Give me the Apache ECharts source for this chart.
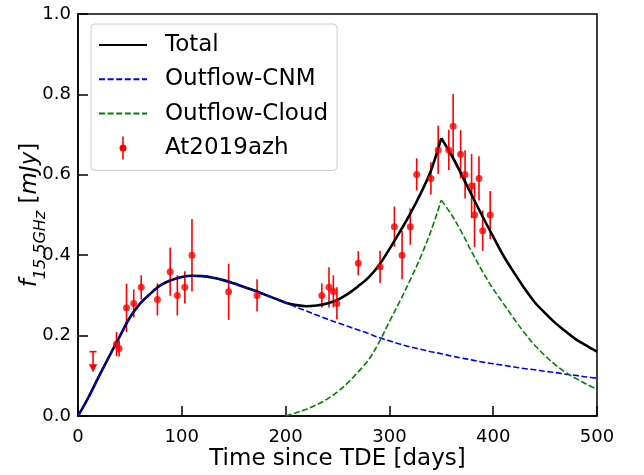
<!DOCTYPE html>
<html>
<head>
<meta charset="utf-8">
<script src="https://cdn.jsdelivr.net/npm/echarts@6/dist/echarts.min.js"></script>
<style>
  html, body { margin: 0; padding: 0; background: #ffffff; }
  #chart { width: 644px; height: 475px; }
</style>
</head>
<body>
<div id="chart"></div>
<script>
// Model light curves, sampled every 10 days
const days = [0, 10, 20, 30, 40, 50, 60, 70, 80, 90,
  100, 110, 120, 130, 140, 150, 160, 170, 180, 190,
  200, 210, 220, 230, 240, 250, 260, 270, 280, 290,
  300, 310, 320, 330, 340, 350, 360, 370, 380, 390,
  400, 410, 420, 430, 440, 450, 460, 470, 480, 490, 500];

const totalFlux = [0, 0.046, 0.098, 0.148, 0.197, 0.245, 0.280, 0.305, 0.326, 0.338,
  0.346, 0.349, 0.348, 0.344, 0.338, 0.330, 0.321, 0.312, 0.302, 0.292,
  0.282, 0.276, 0.273, 0.275, 0.280, 0.289, 0.304, 0.323, 0.345, 0.375,
  0.415, 0.458, 0.503, 0.553, 0.610, 0.691, 0.648, 0.598, 0.546, 0.495,
  0.446, 0.398, 0.357, 0.318, 0.283, 0.256, 0.231, 0.210, 0.190, 0.175, 0.160];

const cnmFlux = [0, 0.046, 0.098, 0.148, 0.197, 0.245, 0.280, 0.305, 0.326, 0.338,
  0.346, 0.349, 0.348, 0.344, 0.338, 0.330, 0.321, 0.312, 0.302, 0.292,
  0.282, 0.271, 0.261, 0.251, 0.241, 0.232, 0.223, 0.214, 0.205, 0.195,
  0.187, 0.179, 0.172, 0.166, 0.160, 0.155, 0.149, 0.144, 0.139, 0.134,
  0.130, 0.126, 0.122, 0.118, 0.115, 0.111, 0.108, 0.104, 0.101, 0.097, 0.094];

// The cloud component switches on at day 200
const cloudFlux = [null, null, null, null, null, null, null, null, null, null,
  null, null, null, null, null, null, null, null, null, null,
  0, 0.008, 0.017, 0.028, 0.042, 0.060, 0.083, 0.110, 0.140, 0.183,
  0.235, 0.285, 0.338, 0.395, 0.460, 0.537, 0.500, 0.455, 0.405, 0.358,
  0.316, 0.279, 0.242, 0.207, 0.176, 0.150, 0.127, 0.108, 0.093, 0.079, 0.066];

// Day of the cloud-interaction peak (curves have a cusp there)
const peakDay = 350;

// AT2019azh 15.5 GHz detections
const obsDays = [37.1, 39.6, 46.7, 53.7, 60.9, 76.5, 88.8, 95.7, 102.9, 109.8,
  145.1, 172.5, 234.9, 241.8, 246.0, 249.4, 270.0, 291.0, 304.8, 312.2,
  320.1, 326.3, 340.0, 347.0, 357.2, 361.4, 368.6, 372.9, 379.2, 382.0,
  386.3, 389.9, 397.1];
const obsFlux = [0.179, 0.168, 0.269, 0.280, 0.320, 0.290, 0.359, 0.300, 0.320, 0.400,
  0.309, 0.300, 0.300, 0.320, 0.310, 0.280, 0.380, 0.371, 0.471, 0.400,
  0.471, 0.601, 0.591, 0.662, 0.662, 0.721, 0.651, 0.601, 0.572, 0.500,
  0.591, 0.461, 0.500];
const obsErr = [0.03, 0.02, 0.06, 0.035, 0.03, 0.04, 0.06, 0.05, 0.04, 0.09,
  0.07, 0.04, 0.03, 0.05, 0.04, 0.04, 0.03, 0.04, 0.05, 0.06,
  0.045, 0.04, 0.04, 0.06, 0.05, 0.08, 0.06, 0.06, 0.08, 0.08,
  0.055, 0.05, 0.06];

// Upper limit
const limitDays = [14.5];
const limitFlux = [0.16];

// Axis ticks
const xTicks = [0, 100, 200, 300, 400, 500];
const yTicks = [0.0, 0.2, 0.4, 0.6, 0.8, 1.0];

const RED = '#ff0000';
const FONT = 'DejaVu Sans';

function pairs(xs, ys) {
  return xs.map((x, i) => [x, ys[i]]);
}

// Split a curve at the cusp so each side can be smoothed on its own
const cuspIndex = days.indexOf(peakDay);
function beforeCusp(ys) { return pairs(days, ys).slice(0, cuspIndex + 1).filter(p => p[1] !== null); }
function afterCusp(ys) { return pairs(days, ys).slice(cuspIndex); }

function renderErrorBar(params, api) {
  const x = api.value(0), y = api.value(1), e = api.value(2);
  const hi = api.coord([x, y + e]);
  const lo = api.coord([x, y - e]);
  return {
    type: 'line',
    shape: { x1: hi[0], y1: hi[1], x2: lo[0], y2: lo[1] },
    style: { stroke: RED, lineWidth: 1.6 }
  };
}

function renderLimit(params, api) {
  const p = api.coord([api.value(0), api.value(1)]);
  return {
    type: 'group',
    children: [
      { type: 'line', shape: { x1: p[0] - 3.5, y1: p[1], x2: p[0] + 3.5, y2: p[1] },
        style: { stroke: RED, lineWidth: 1.6 } },
      { type: 'line', shape: { x1: p[0], y1: p[1], x2: p[0], y2: p[1] + 13 },
        style: { stroke: RED, lineWidth: 1.6 } },
      { type: 'polygon', shape: { points: [[p[0] - 4.2, p[1] + 12.5], [p[0] + 4.2, p[1] + 12.5], [p[0], p[1] + 20.5]] },
        style: { fill: RED } }
    ]
  };
}

const chart = echarts.init(document.getElementById('chart'), null, { renderer: 'canvas' });

const axisCommon = {
  axisLine: { show: true, lineStyle: { color: '#000', width: 1.5 } },
  axisTick: { show: true, inside: true, length: 10, lineStyle: { color: '#000', width: 1.5 } },
  splitLine: { show: false },
  nameMoveOverlap: false
};

const totalStyle = { color: '#000000', width: 2.6 };
const cnmStyle = { color: '#0000ff', width: 1.6, type: [6, 2.6] };
const cloudStyle = { color: '#008000', width: 1.6, type: [6, 2.6] };

function curve(name, data, lineStyle) {
  return {
    name: name, type: 'line', data: data,
    symbol: 'none', smooth: 0.35,
    lineStyle: lineStyle,
    itemStyle: { color: lineStyle.color }
  };
}

chart.setOption({
  animation: false,
  backgroundColor: '#ffffff',
  textStyle: { fontFamily: FONT },
  grid: {
    left: 78, right: 47, top: 14, bottom: 59,
    outerBoundsMode: 'none', containLabel: false,
    show: true, borderColor: '#000', borderWidth: 1.5, backgroundColor: 'transparent'
  },
  xAxis: Object.assign({
    type: 'value',
    min: xTicks[0], max: xTicks[xTicks.length - 1], interval: xTicks[1] - xTicks[0],
    name: 'Time since TDE [days]',
    nameLocation: 'middle', nameGap: 32,
    nameTextStyle: { fontFamily: FONT, fontSize: 23, color: '#000' },
    axisLabel: { fontFamily: FONT, fontSize: 18, color: '#000', margin: 12 }
  }, axisCommon),
  yAxis: Object.assign({
    type: 'value',
    min: yTicks[0], max: yTicks[yTicks.length - 1], interval: 0.2,
    name: '{f|f}{s|15.5GHz}{r| [}{f|mJy}{r|]}',
    nameLocation: 'middle', nameGap: 16, nameRotate: 90,
    nameTextStyle: {
      color: '#000',
      rich: {
        f: { fontFamily: FONT, fontStyle: 'italic', fontSize: 23, lineHeight: 23, verticalAlign: 'top', color: '#000' },
        r: { fontFamily: FONT, fontSize: 23, lineHeight: 23, verticalAlign: 'top', color: '#000' },
        s: { fontFamily: FONT, fontStyle: 'italic', fontSize: 16, lineHeight: 43, color: '#000' }
      }
    },
    axisLabel: {
      fontFamily: FONT, fontSize: 18, color: '#000', margin: 7,
      formatter: v => v.toFixed(1)
    }
  }, axisCommon),
  legend: {
    orient: 'vertical',
    left: 91, top: 24,
    padding: [9.5, 9, 11, 7],
    itemWidth: 48, itemHeight: 23, itemGap: 11.3,
    selectedMode: false,
    backgroundColor: 'rgba(255,255,255,0.8)',
    borderColor: '#cccccc', borderWidth: 1, borderRadius: 4,
    itemStyle: { opacity: 0 },
    textStyle: { fontFamily: FONT, fontSize: 23, lineHeight: 23, color: '#000', padding: [0, 0, 0, 13] },
    data: [
      { name: 'Total' },
      { name: 'Outflow-CNM' },
      { name: 'Outflow-Cloud' },
      {
        name: 'At2019azh',
        icon: 'path://M-0.8,0 L0.8,0 L0.8,23 L-0.8,23 Z M0,8 A3.5,3.5 0 1 1 0,15 A3.5,3.5 0 1 1 0,8 Z',
        itemStyle: { opacity: 1, color: RED }
      }
    ]
  },
  series: [
    curve('Total', beforeCusp(totalFlux), totalStyle),
    curve('Total', afterCusp(totalFlux), totalStyle),
    curve('Outflow-CNM', pairs(days, cnmFlux), cnmStyle),
    curve('Outflow-Cloud', beforeCusp(cloudFlux), cloudStyle),
    curve('Outflow-Cloud', afterCusp(cloudFlux), cloudStyle),
    {
      name: 'At2019azh', type: 'scatter',
      data: pairs(obsDays, obsFlux),
      symbol: 'circle', symbolSize: 7,
      itemStyle: { color: RED },
      z: 4
    },
    {
      name: 'At2019azh', type: 'custom',
      data: obsDays.map((d, i) => [d, obsFlux[i], obsErr[i]]),
      encode: { x: 0, y: 1 },
      renderItem: renderErrorBar,
      itemStyle: { color: RED },
      z: 3
    },
    {
      name: 'At2019azh', type: 'custom',
      data: pairs(limitDays, limitFlux),
      encode: { x: 0, y: 1 },
      renderItem: renderLimit,
      itemStyle: { color: RED },
      z: 3
    }
  ]
});
</script>
</body>
</html>
